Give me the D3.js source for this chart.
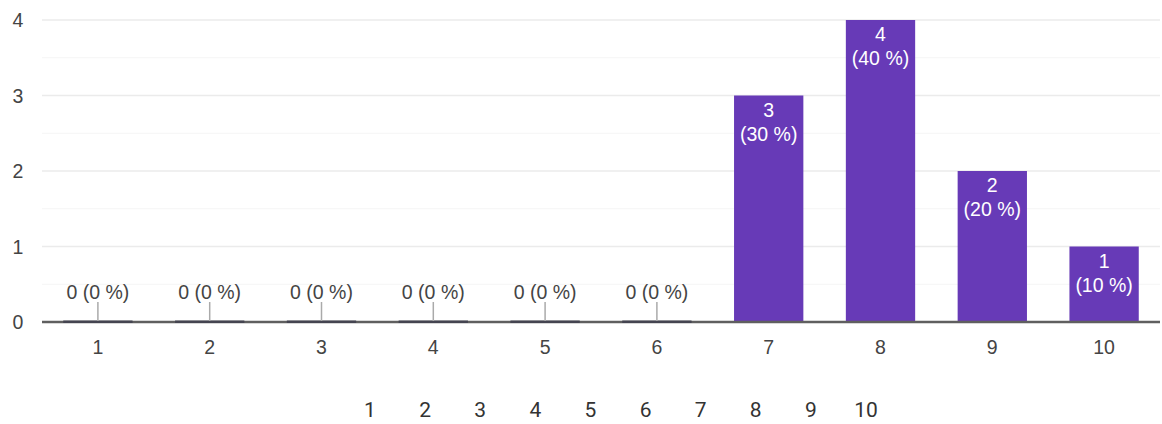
<!DOCTYPE html>
<html>
<head>
<meta charset="utf-8">
<script src="https://cdn.jsdelivr.net/npm/d3@7"></script>
<style>
  html, body { margin: 0; padding: 0; background: #fff; }
  svg { display: block; }
</style>
</head>
<body>
<svg id="chart" width="1162" height="424"></svg>
<script>
const categories = ["1", "2", "3", "4", "5", "6", "7", "8", "9", "10"];
const counts = [0, 0, 0, 0, 0, 0, 3, 4, 2, 1];
const percents = [0, 0, 0, 0, 0, 0, 30, 40, 20, 10];
const yTicks = [0, 1, 2, 3, 4];
const scaleLabels = ["1", "2", "3", "4", "5", "6", "7", "8", "9", "10"];

const width = 1162;
const height = 424;
const margin = { top: 20, right: 2, bottom: 102, left: 42 };
const barColor = "#673ab7";
const font = "'Liberation Sans', Arial, sans-serif";
const fontSize = 19.5;

const data = categories.map((cat, i) => ({ cat, count: counts[i], pct: percents[i] }));

const svg = d3.select("#chart");

const x = d3.scaleBand()
  .domain(categories)
  .range([margin.left, width - margin.right])
  .paddingInner(0.38)
  .paddingOuter(0.19);

const y = d3.scaleLinear()
  .domain([0, 4])
  .range([height - margin.bottom, margin.top]);

// minor gridlines
svg.append("g")
  .selectAll("line")
  .data(d3.range(0.5, 4, 1))
  .join("line")
  .attr("x1", margin.left)
  .attr("x2", width - margin.right)
  .attr("y1", (d) => y(d))
  .attr("y2", (d) => y(d))
  .attr("stroke", "#f5f5f5")
  .attr("stroke-width", 1);

// major gridlines
svg.append("g")
  .selectAll("line")
  .data(yTicks.slice(1))
  .join("line")
  .attr("x1", margin.left)
  .attr("x2", width - margin.right)
  .attr("y1", (d) => y(d))
  .attr("y2", (d) => y(d))
  .attr("stroke", "#ebebeb")
  .attr("stroke-width", 1.5);

// y labels
svg.append("g")
  .selectAll("text")
  .data(yTicks)
  .join("text")
  .attr("x", 18)
  .attr("y", (d) => y(d))
  .attr("text-anchor", "middle")
  .attr("dominant-baseline", "central")
  .attr("font-family", font)
  .attr("font-size", fontSize)
  .attr("fill", "#444")
  .text((d) => d);

// bars
svg.append("g")
  .selectAll("rect")
  .data(data)
  .join("rect")
  .attr("x", (d) => x(d.cat))
  .attr("width", x.bandwidth())
  .attr("y", (d) => y(d.count))
  .attr("height", (d) => y(0) - y(d.count))
  .attr("fill", barColor);

// baseline
svg.append("line")
  .attr("x1", margin.left)
  .attr("x2", width - margin.right)
  .attr("y1", y(0))
  .attr("y2", y(0))
  .attr("stroke", "#5f5f5f")
  .attr("stroke-width", 2.5);

// zero bar stubs
const zero = data.filter((d) => d.count === 0);
svg.append("g")
  .selectAll("rect")
  .data(zero)
  .join("rect")
  .attr("x", (d) => x(d.cat))
  .attr("width", x.bandwidth())
  .attr("y", y(0) - 1.5)
  .attr("height", 2.5)
  .attr("fill", "#444450");

svg.append("g")
  .selectAll("line")
  .data(zero)
  .join("line")
  .attr("x1", (d) => x(d.cat) + x.bandwidth() / 2)
  .attr("x2", (d) => x(d.cat) + x.bandwidth() / 2)
  .attr("y1", y(0) - 20)
  .attr("y2", y(0) - 1)
  .attr("stroke", "#aaa")
  .attr("stroke-width", 1.5);

svg.append("g")
  .selectAll("text")
  .data(zero)
  .join("text")
  .attr("x", (d) => x(d.cat) + x.bandwidth() / 2)
  .attr("y", y(0) - 30)
  .attr("text-anchor", "middle")
  .attr("dominant-baseline", "central")
  .attr("font-family", font)
  .attr("font-size", fontSize)
  .attr("fill", "#444")
  .text((d) => `${d.count} (${d.pct} %)`);

// labels inside bars
const filled = data.filter((d) => d.count > 0);
const inside = svg.append("g")
  .selectAll("text")
  .data(filled)
  .join("text")
  .attr("text-anchor", "middle")
  .attr("font-family", font)
  .attr("font-size", fontSize)
  .attr("fill", "#fff");

inside.append("tspan")
  .attr("x", (d) => x(d.cat) + x.bandwidth() / 2)
  .attr("y", (d) => y(d.count) + 14)
  .attr("dominant-baseline", "central")
  .text((d) => d.count);

inside.append("tspan")
  .attr("x", (d) => x(d.cat) + x.bandwidth() / 2)
  .attr("y", (d) => y(d.count) + 38)
  .attr("dominant-baseline", "central")
  .text((d) => `(${d.pct} %)`);

// x labels
svg.append("g")
  .selectAll("text")
  .data(categories)
  .join("text")
  .attr("x", (d) => x(d) + x.bandwidth() / 2)
  .attr("y", 347)
  .attr("text-anchor", "middle")
  .attr("dominant-baseline", "central")
  .attr("font-family", font)
  .attr("font-size", fontSize)
  .attr("fill", "#444")
  .text((d) => d);

// scale row below
const s = d3.scalePoint()
  .domain(scaleLabels)
  .range([370, 866]);

svg.append("g")
  .selectAll("text")
  .data(scaleLabels)
  .join("text")
  .attr("x", (d) => s(d))
  .attr("y", 410)
  .attr("text-anchor", "middle")
  .attr("dominant-baseline", "central")
  .attr("font-family", "Roboto, sans-serif")
  .attr("font-size", 21)
  .attr("fill", "#333")
  .text((d) => d);
</script>
</body>
</html>
